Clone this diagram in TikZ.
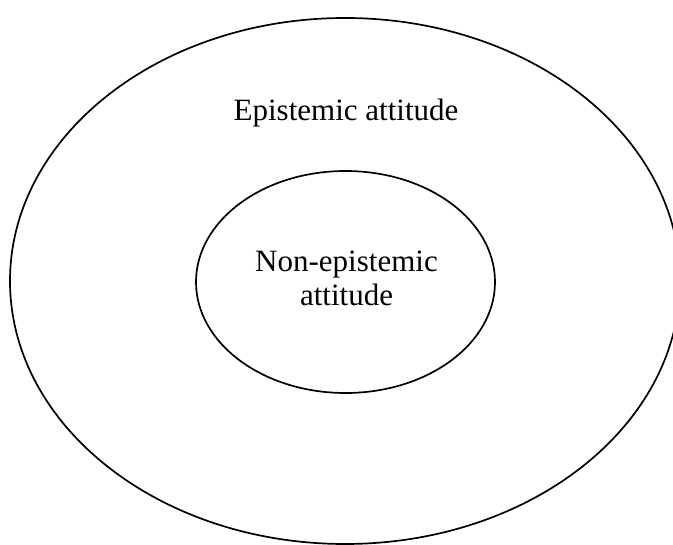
\documentclass[tikz,border=0pt]{standalone}
\usepackage{fontspec}
\setmainfont{Liberation Serif}
\begin{document}
\begin{tikzpicture}[x=1pt,y=-1pt,
  ring/.style={draw=black,line width=1.7pt},
  lbl/.style={font=\fontsize{31}{34.5}\selectfont,align=center,inner sep=0pt}]
\useasboundingbox (0,0) rectangle (673,545);
\draw[ring] (345,281) ellipse [x radius=335,y radius=263];
\draw[ring] (345.5,282) ellipse [x radius=149.5,y radius=111];
\node[lbl,anchor=base] (outer) at (346,120.7) {Epistemic attitude};
\node[lbl,anchor=base] (inner1) at (346.5,271.7) {Non-epistemic};
\node[lbl,anchor=base] (inner2) at (346.5,306) {attitude};
\end{tikzpicture}
\end{document}
